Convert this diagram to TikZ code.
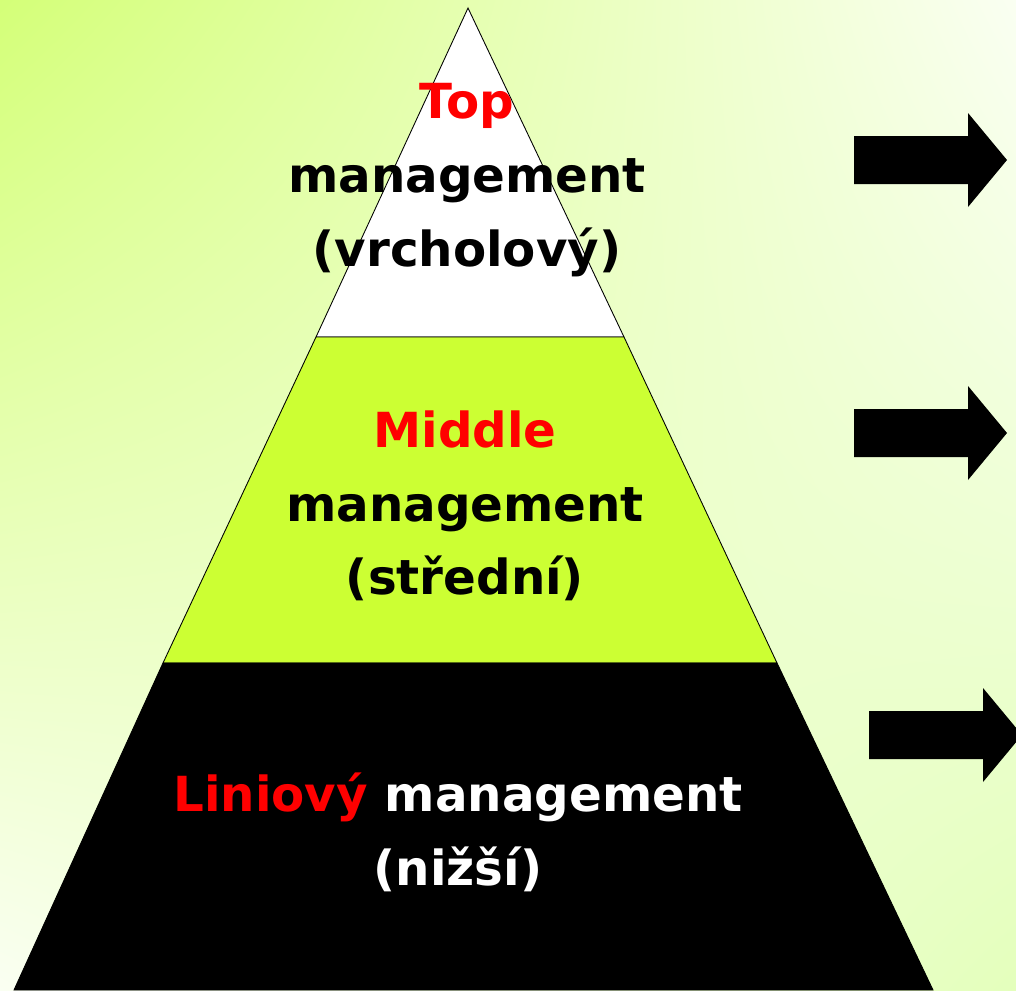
\documentclass[tikz,border=0pt]{standalone}
\usepackage{fontspec}
\setmainfont{DejaVu Sans}
\usetikzlibrary{shadings}
\definecolor{bgtop}{HTML}{D4FF78}
\definecolor{bgpale}{HTML}{FAFFF2}
\definecolor{bglow}{HTML}{E4FFBC}
\definecolor{limegreen}{HTML}{CCFF33}
\definecolor{titlered}{HTML}{FF0000}
\begin{document}
\begin{tikzpicture}[x=0.02cm,y=-0.02cm,
    tier/.style={draw=black,line width=0.5pt},
    tier text/.style={align=center,font=\fontsize{27.5}{42}\selectfont\bfseries},
    block arrow/.style={fill=black}]

    % Define background
    \shade[upper left=bgtop,upper right=bgpale,lower left=bgpale,lower right=bglow]
        (0,0) rectangle (1016,990);
    \useasboundingbox (0,0) rectangle (1016,990);

    % Define corners of the pyramid
    \coordinate (apex) at (468,8);
    \coordinate (topL) at (316,337);
    \coordinate (topR) at (624,337);
    \coordinate (midL) at (163,663);
    \coordinate (midR) at (777,663);
    \coordinate (baseL) at (14,990);
    \coordinate (baseR) at (933,990);

    % Define tiers
    \filldraw[tier,fill=white] (apex) -- (topR) -- (topL) -- cycle;
    \filldraw[tier,fill=limegreen] (topL) -- (topR) -- (midR) -- (midL) -- cycle;
    \filldraw[tier,fill=black] (midL) -- (midR) -- (baseR) -- (baseL) -- cycle;

    % Define labels
    \node[tier text] (top) at (467,180)
        {\textcolor{titlered}{Top}\\management\\(vrcholový)};
    \node[tier text] (middle) at (465,506)
        {\textcolor{titlered}{Middle}\\management\\(střední)};
    \node[tier text,text=white] (line) at (458,832)
        {\textcolor{titlered}{Liniový} management\\(nižší)};

    % Define arrows
    \foreach \x/\y in {854/160, 854/433, 869/735}
        \fill[block arrow] (\x,\y-24) -- ++(114,0) -- ++(0,-23) -- (\x+153,\y)
            -- (\x+114,\y+47) -- ++(0,-23) -- (\x,\y+24) -- cycle;

\end{tikzpicture}
\end{document}
